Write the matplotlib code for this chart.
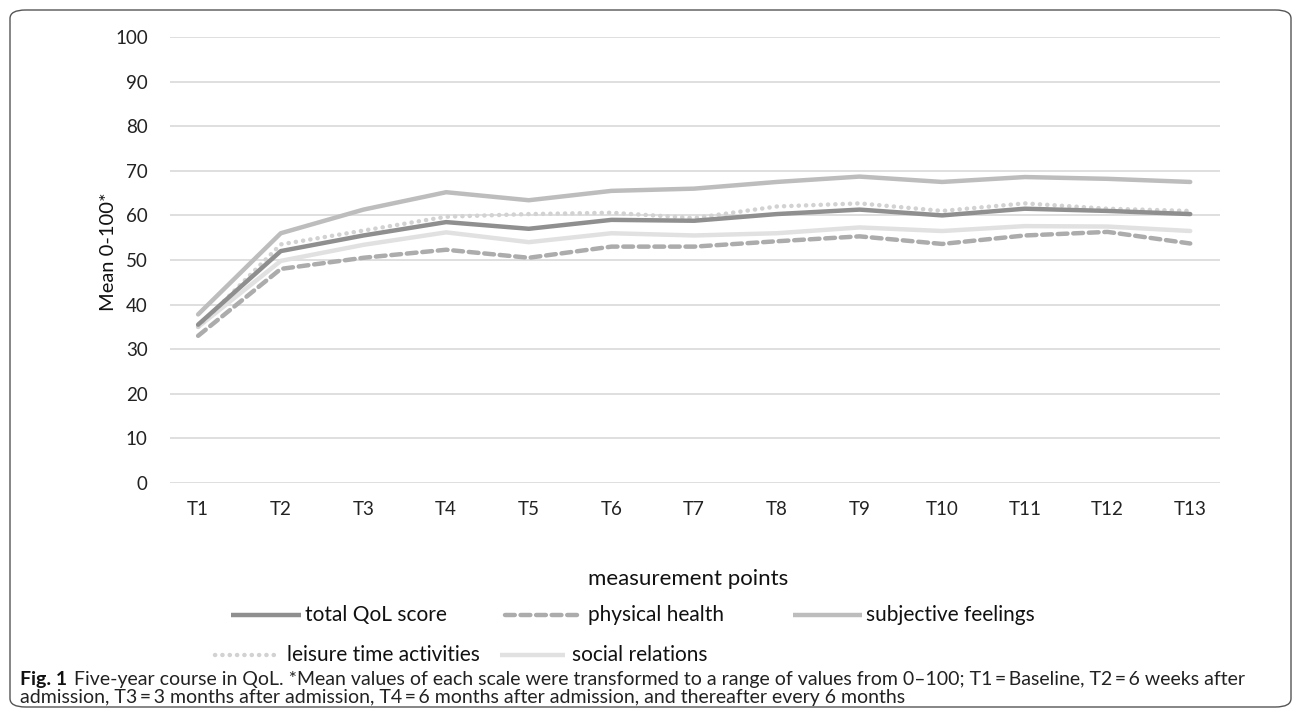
import matplotlib
matplotlib.use("Agg")
import matplotlib.pyplot as plt
from matplotlib.patches import FancyBboxPatch
from matplotlib.lines import Line2D
import logging

logging.getLogger("matplotlib.font_manager").setLevel(logging.ERROR)
plt.rcParams["font.family"] = ["Lato", "DejaVu Sans"]

# data
points = ["T1", "T2", "T3", "T4", "T5", "T6", "T7", "T8", "T9", "T10", "T11", "T12", "T13"]
total_qol = [35.5, 52.0, 55.5, 58.5, 57.0, 59.0, 58.8, 60.3, 61.3, 60.0, 61.5, 61.0, 60.3]
physical = [33.0, 48.0, 50.5, 52.3, 50.5, 53.0, 53.0, 54.2, 55.3, 53.6, 55.5, 56.3, 53.7]
subjective = [37.8, 56.0, 61.3, 65.2, 63.4, 65.5, 66.0, 67.5, 68.7, 67.5, 68.6, 68.2, 67.5]
leisure = [35.0, 53.5, 56.6, 59.7, 60.3, 60.6, 59.4, 62.0, 62.7, 61.0, 62.7, 61.5, 61.0]
social = [35.0, 49.8, 53.4, 56.2, 54.0, 56.0, 55.5, 56.0, 57.3, 56.5, 57.6, 57.5, 56.5]

W, H = 1295, 710
fig = plt.figure(figsize=(W / 100, H / 100), dpi=100, facecolor="white")

# outer rounded frame
frame = FancyBboxPatch((10 / W, 3 / H), 1281 / W, 697 / H,
                       boxstyle="round,pad=0,rounding_size=0.012",
                       transform=fig.transFigure, facecolor="none",
                       edgecolor="#555555", lw=1.0)
fig.patches.append(frame)

ax = fig.add_axes([170 / W, 227 / H, 1050 / W, 446 / H])
x = list(range(len(points)))

DASH = (0, (2.2, 1.3))
DOT = (0, (0.05, 1.6))
styles = [
    ("total QoL score", total_qol, "#8f8f8f", "-"),
    ("physical health", physical, "#acacac", DASH),
    ("subjective feelings", subjective, "#bdbdbd", "-"),
    ("leisure time activities", leisure, "#d2d2d2", DOT),
    ("social relations", social, "#e1e1e1", "-"),
]
style_of = {}
order = ["social relations", "physical health", "leisure time activities",
         "total QoL score", "subjective feelings"]
for name, vals, col, ls in styles:
    ax.plot(x, vals, color=col, lw=3.2, ls=ls, solid_capstyle="round",
            dash_capstyle="round", solid_joinstyle="round",
            zorder=3 + order.index(name))
    style_of[name] = (col, ls)

ax.set_xlim(-0.34, 12.36)
ax.set_ylim(0, 100)
ax.set_yticks(range(0, 101, 10))
ax.set_xticks(x)
ax.set_xticklabels(points)
ax.yaxis.grid(True, color="#d9d9d9", lw=1.2)
ax.set_axisbelow(True)
for s in ax.spines.values():
    s.set_visible(False)
ax.tick_params(length=0, labelsize=13.5, colors="#222222")
ax.tick_params(axis="y", pad=16)
ax.tick_params(axis="x", pad=13)

fig.text(108 / W, 1 - 252 / H, "Mean 0-100*", rotation=90, ha="center",
         va="center", fontsize=14.5, color="#111111")
fig.text(688 / W, 1 - 579 / H, "measurement points", ha="center", va="center",
         fontsize=16, color="#111111")

# legend drawn as Excel-style grid (3 columns, 2 rows)
def leg_item(x0, y, x1, name, tx):
    col, ls = style_of[name]
    fig.add_artist(Line2D([x0 / W, x1 / W], [1 - y / H, 1 - y / H],
                          color=col, lw=3.2, ls=ls,
                          dash_capstyle="round", solid_capstyle="butt"))
    fig.text(tx / W, 1 - y / H, name, ha="left", va="center", fontsize=15,
             color="#111111")

leg_item(231, 615, 301, "total QoL score", 305)
leg_item(505, 615, 577, "physical health", 588)
leg_item(793, 615, 862, "subjective feelings", 866)
leg_item(215, 655, 278, "leisure time activities", 287)
leg_item(500, 655, 565, "social relations", 572)

cap_font = ["Lato", "DejaVu Sans"]
fig.text(20 / W, 1 - 679 / H, "Fig. 1", ha="left", va="center",
         fontsize=14, fontweight="bold", family=cap_font, color="#111111")
fig.text(74 / W, 1 - 679 / H,
         "Five-year course in QoL. *Mean values of each scale were transformed to a range of values "
         "from 0\u2013100; T1\u2009=\u2009Baseline, T2\u2009=\u20096 weeks after",
         ha="left", va="center", fontsize=14, family=cap_font, color="#222222")
fig.text(20 / W, 1 - 697 / H,
         "admission, T3\u2009=\u20093 months after admission, T4\u2009=\u20096 months after admission, "
         "and thereafter every 6 months",
         ha="left", va="center", fontsize=14, family=cap_font, color="#222222")

fig.savefig("out.png", dpi=100, facecolor="white")
